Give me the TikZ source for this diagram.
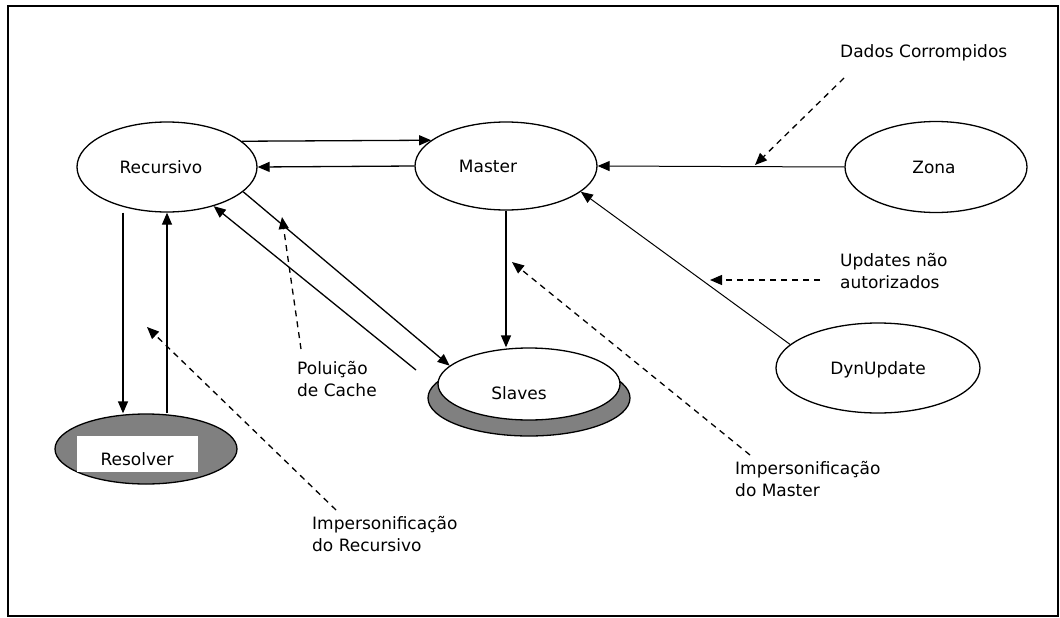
\documentclass[tikz,border=0pt]{standalone}
\usepackage{fontspec}
\setmainfont{DejaVu Sans}
\usetikzlibrary{arrows.meta,shapes.geometric}
\begin{document}
\begin{tikzpicture}[x=1pt,y=-1pt,
  every node/.style={font=\fontsize{17}{22}\selectfont},
  ell/.style={ellipse, draw, line width=1.3pt, fill=white, inner sep=0pt},
  shade/.style={ellipse, draw, line width=1.3pt, fill=black!50, inner sep=0pt},
  txt/.style={inner sep=0pt},
  lbl/.style={align=left, inner sep=0pt, anchor=north west},
  conn/.style={line width=1.3pt, -{Triangle[length=12pt,width=10pt]}},
  thinconn/.style={line width=1pt, -{Triangle[length=12pt,width=10pt]}},
  dconn/.style={line width=1.3pt, dash pattern=on 6pt off 5pt, -{Triangle[length=12pt,width=10pt]}}
]
\useasboundingbox (0,0) rectangle (1060,618);
\draw[line width=1.2pt] (8,6) rectangle (1058,616);

% nodes
\node[ell, minimum width=180pt, minimum height=90pt] (rec) at (167,167) {};
\node[txt] (rect) at (161,167) {Recursivo};
\node[ell, minimum width=182pt, minimum height=88pt] (mas) at (506,166) {};
\node[txt] (mast) at (488,166) {Master};
\node[ell, minimum width=182pt, minimum height=91pt] (zon) at (936,167) {};
\node[txt] (zont) at (934,167) {Zona};
\node[ell, minimum width=204pt, minimum height=90pt] (dyn) at (878,368) {};
\node[txt] (dynt) at (878,370) {DynUpdate};
\node[shade, minimum width=202pt, minimum height=76pt] (slash) at (529,398) {};
\node[ell, minimum width=182pt, minimum height=72pt] (sla) at (529,384) {};
\node[txt] (slat) at (519,393) {Slaves};
\node[shade, minimum width=182pt, minimum height=70pt] (res) at (146,449) {};
\node[fill=white, inner sep=0pt, minimum width=121pt, minimum height=36pt] (resbox) at (137.5,454) {};
\node[txt] (rest) at (137,459) {Resolver};

% labels
\node[lbl, anchor=west] (dados) at (840,53) {Dados Corrompidos};
\node[lbl] (upd) at (840,253) {Updates não\\autorizados};
\node[lbl] (pol) at (297,361) {Poluição\\de Cache};
\node[lbl] (imr) at (312,516) {Impersonificação\\do Recursivo};
\node[lbl] (imm) at (735,461) {Impersonificação\\do Master};

% solid connectors
\draw[conn] (rec.19) -- (mas.161);
\draw[conn] (mas.west) -- (rec.east);
\draw[thinconn] (zon.west) -- (mas.east);
\draw[conn] (rec.-18) -- (sla.167);
\coordinate (s2) at (416,370);
\draw[conn] (s2) -- (rec.-40);
\draw[conn] (mas.south) -- (mas.south |- sla.north);
\draw[thinconn] (dyn.165) -- (mas.-19);
\draw[conn] ([xshift=-44pt]rec.south) -- ([xshift=-23pt]res.north);
\draw[conn] (res.north -| rec.south) -- (rec.south);

% dashed connectors
\coordinate (da) at (844,78);
\coordinate (db) at (755,165);
\draw[dconn] (da) -- (db);
\coordinate (ua) at (820,280);
\coordinate (ub) at (710,280);
\draw[dconn] (ua) -- (ub);
\coordinate (pa) at (301,349);
\coordinate (pb) at (282,217);
\draw[dconn] (pa) -- (pb);
\coordinate (ra) at (336,510);
\coordinate (rb) at (147,327);
\draw[dconn] (ra) -- (rb);
\coordinate (ma) at (750,455);
\coordinate (mb) at (512,262);
\draw[dconn] (ma) -- (mb);
\end{tikzpicture}
\end{document}
